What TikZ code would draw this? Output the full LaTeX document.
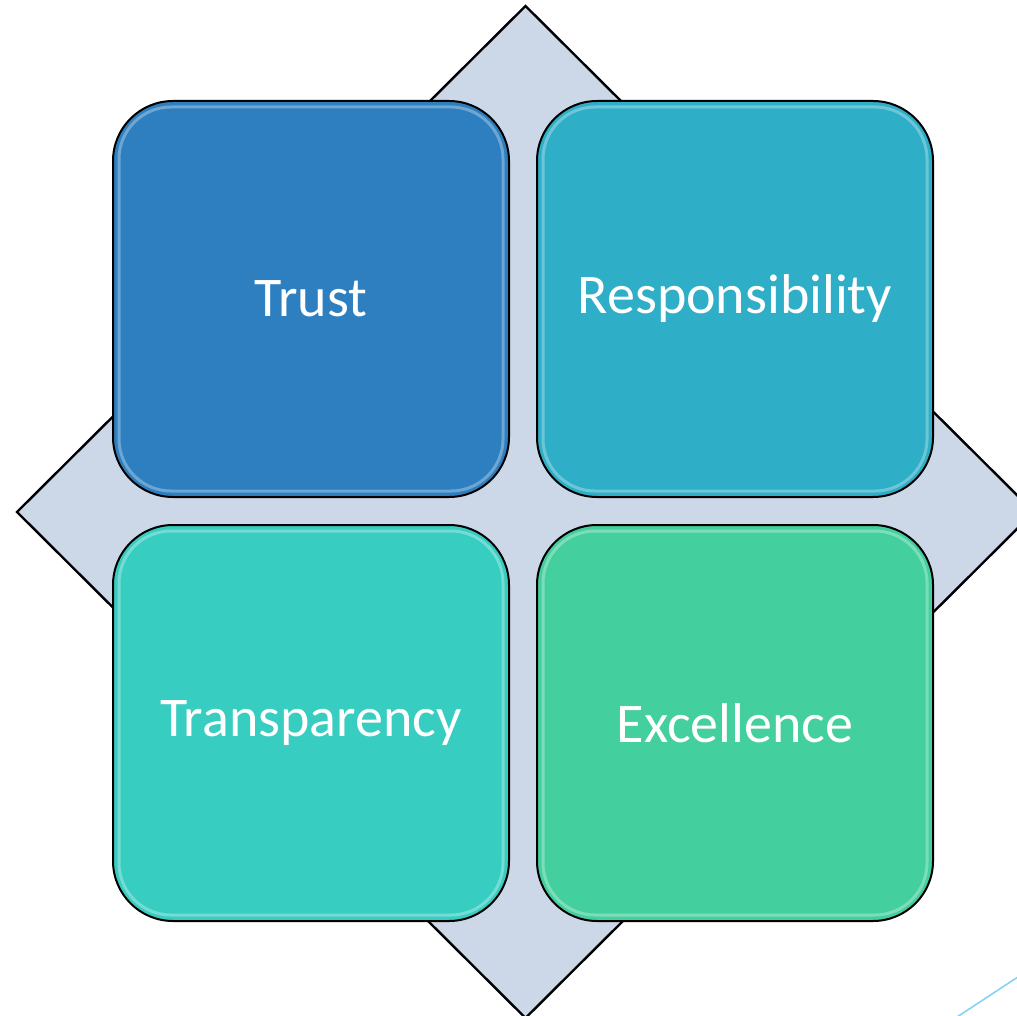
\documentclass[tikz,border=0pt]{standalone}
\usepackage{fontspec}
\setmainfont{Carlito}
\definecolor{diafill}{HTML}{CCD8E8}
\definecolor{ctrust}{HTML}{2E7FC0}
\definecolor{cresp}{HTML}{2FAEC7}
\definecolor{ctrans}{HTML}{38CDC1}
\definecolor{cexc}{HTML}{44CF9E}
\definecolor{deco}{HTML}{86D3F0}
\begin{document}
\begin{tikzpicture}[x=1pt,y=-1pt,
  valbox/.style={draw=black, line width=2pt, rounded corners=60pt,
    minimum width=396pt, minimum height=396pt, inner sep=0pt,
    text=white, font=\fontsize{56}{60}\selectfont},
  gloss/.style={draw=white, line width=3pt, draw opacity=0.3, rounded corners=52pt}]
\useasboundingbox (0,0) rectangle (1017,1016);
\begin{scope}
\clip (0,0) rectangle (1017,1016);
\draw[fill=diafill, line width=2.4pt, line join=miter] (525.5,6) -- (17,512) -- (525.5,1018) -- (1034,512) -- cycle;
\coordinate (d1) at (957,1017);
\coordinate (d2) at (1030,969);
\draw[deco, line width=1.6pt] (d1) -- (d2);
\end{scope}
\node[valbox, fill=ctrust] (trust) at (311,299) {Trust};
\node[valbox, fill=cresp] (resp) at (735,299) {Responsibility};
\node[valbox, fill=ctrans] (trans) at (311,723) {Transparency};
\node[valbox, fill=cexc] (exc) at (735,723) {Excellence};
\foreach \n in {trust,resp,trans,exc}{
  \draw[gloss] ([xshift=7pt,yshift=7pt]\n.south west) rectangle ([xshift=-7pt,yshift=-7pt]\n.north east);
}
\end{tikzpicture}
\end{document}
